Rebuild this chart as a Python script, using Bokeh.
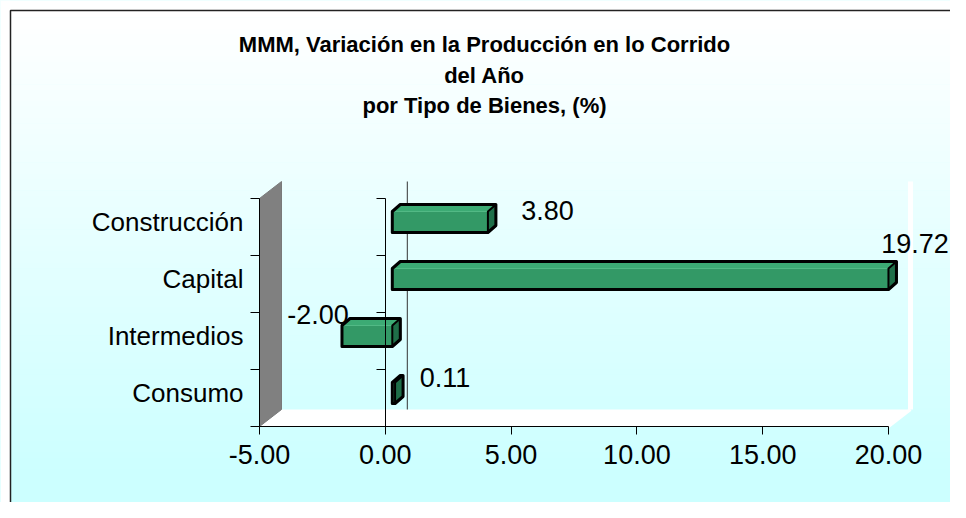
from bokeh.plotting import figure
from bokeh.models import Range1d, LinearAxis, FixedTicker, NumeralTickFormatter, Label
from bokeh.embed import file_html
from bokeh.resources import INLINE
from bokeh.core.properties import value

# ---------------- data ----------------
categories = ["Consumo", "Intermedios", "Capital", "Construcción"]
values = [0.11, -2.00, 19.72, 3.80]
value_labels = ["0.11", "-2.00", "19.72", "3.80"]
x_ticks = [-5, 0, 5, 10, 15, 20]
title_lines = ["MMM, Variación en la Producción en lo Corrido",
               "del Año",
               "por Tipo de Bienes, (%)"]

# ---------------- layout (pixels of the picture) ----------------
W, H = 950, 502
ORIGIN = 0
XMIN, XMAX = -5, 20
X_LEFT_PX, X_RIGHT_PX = 259, 888          # front plane: value -5 and 20
PXX = (X_RIGHT_PX - X_LEFT_PX) / (XMAX - XMIN)
Y_BOTTOM_PX = 426                         # front floor edge
PXY = 57                                  # pixels per category


def X(px):
    return XMIN + (px - X_LEFT_PX) / PXX


def Y(py):
    return -0.5 + (Y_BOTTOM_PX - py) / PXY


FONT = "Liberation Sans"
# 3D depth of the walls and bars (pixels)
DX, DY = 22 / PXX, 17 / PXY
D1X, D1Y = 7 / PXX, 5 / PXY
D2X, D2Y = 8 / PXX, 7 / PXY
HALF = 10.5 / PXY
# value-label offsets in pixels (right, down) from the bar end / category centre
label_dx = [57, -17, 33.5, 66.5]
label_dy = [-20.5, -26.5, -40.5, -16.5]

p = figure(width=W, height=H,
           x_range=Range1d(X(ORIGIN), X(ORIGIN + W)),
           y_range=Range1d(Y(ORIGIN + H), Y(ORIGIN)),
           output_backend="svg", toolbar_location=None,
           x_axis_type=None, y_axis_type=None, min_border=0)
p.outline_line_color = None
p.background_fill_color = "#ccffff"
p.border_fill_color = "#ccffff"

# background gradient inside the chart border
N = 90
top_px, bot_px = 0, 502
xs_l, xs_r, ys_t, ys_b, cols = [], [], [], [], []
for i in range(N):
    a = top_px + (bot_px - top_px) * i / N
    b = top_px + (bot_px - top_px) * (i + 1) / N
    t = min(1.0, max(0.0, (a - 10) / (470 - 10)))
    r = int(round(255 - (255 - 204) * t))
    cols.append("#%02x%02x%02x" % (r, 255, 255))
    xs_l.append(X(0)); xs_r.append(X(W)); ys_t.append(Y(a)); ys_b.append(Y(b + 0.6))
p.quad(left=xs_l, right=xs_r, top=ys_t, bottom=ys_b, fill_color=cols, line_color=None)
# white outside the chart border
p.quad(left=[X(0), X(0)], right=[X(10), X(W)], top=[Y(0), Y(0)], bottom=[Y(H), Y(10)],
       fill_color="white", line_color=None)

# chart border (left and top edges; the rest lies outside the picture)
p.line([X(10), X(10), X(W)], [Y(H), Y(10), Y(10)], line_color="#222222", line_width=1.5)

# walls
ylo, yhi = -0.5, len(categories) - 0.5
p.patch([XMIN, XMAX, XMAX + DX, XMIN + DX], [ylo, ylo, ylo + DY, ylo + DY],
        fill_color="white", line_color=None)
p.patch([XMIN, XMIN, XMIN + DX, XMIN + DX], [ylo, yhi, yhi + DY, ylo + DY],
        fill_color="#808080", line_color="#7a7a7a", line_width=1)
p.line([XMAX + DX, XMAX + DX], [ylo + DY, yhi + DY], line_color="white", line_width=5)
p.line([XMAX, XMAX + DX], [ylo, ylo + DY], line_color="white", line_width=3)
# zero line on the back wall
p.line([DX, DX], [ylo + DY, yhi + DY], line_color="#333333", line_width=1)

# bars
fx, fy, tx, ty, rx, ry, hx, hy = [], [], [], [], [], [], [], []
for c, v in enumerate(values):
    x0 = min(0, v) + D1X
    x1 = max(0, v) + D1X
    yc = c + D1Y
    yb, yt = yc - HALF, yc + HALF
    fx.append([x0, x1, x1, x0]); fy.append([yb, yb, yt, yt])
    tx.append([x0, x1, x1 + D2X, x0 + D2X]); ty.append([yt, yt, yt + D2Y, yt + D2Y])
    rx.append([x1, x1 + D2X, x1 + D2X, x1]); ry.append([yb, yb + D2Y, yt + D2Y, yt])
    hx.append([x0, x1, x1 + D2X, x1 + D2X, x0 + D2X, x0])
    hy.append([yb, yb, yb + D2Y, yt + D2Y, yt + D2Y, yt])
p.patches(fx, fy, fill_color="#339966", line_color=None)
p.patches(tx, ty, fill_color="#3cab74", line_color="#52b985", line_width=1)
p.patches(rx, ry, fill_color="#1f6f49", line_color="black", line_width=2)
p.patches(hx, hy, fill_color=None, line_color="black", line_width=3, line_join="round")

# value labels
lx = [max(0, v) if v >= 0 else v for v in values]
lx = [a + d / PXX for a, d in zip(lx, label_dx)]
ly = [c - d / PXY for c, d in enumerate(label_dy)]
p.text(x=lx, y=ly, text=value_labels, text_font=value(FONT), text_font_size="27px",
       text_align="center", text_baseline="middle", text_color="black")

# axes
xax = LinearAxis(ticker=FixedTicker(ticks=x_ticks), formatter=NumeralTickFormatter(format="0.00"),
                 fixed_location=ylo, bounds=(XMIN, XMAX))
xax.axis_line_color = "black"
xax.major_tick_out = 8
xax.major_tick_in = 0
xax.minor_tick_line_color = None
xax.major_label_text_font = FONT
xax.major_label_text_font_size = "27px"
xax.major_label_text_color = "black"
xax.major_label_standoff = 10
p.add_layout(xax, "below")

label_ticks = [round(c + D1Y, 4) for c in range(len(categories))]
bounds_y = [c - 0.5 for c in range(len(categories) + 1)]
yax = LinearAxis(ticker=FixedTicker(ticks=label_ticks, minor_ticks=bounds_y),
                 fixed_location=XMIN, bounds=(ylo, yhi),
                 major_label_overrides={t: n for t, n in zip(label_ticks, categories)})
yax.axis_line_color = "black"
yax.major_tick_line_color = None
yax.major_tick_out = 0
yax.major_tick_in = 0
yax.minor_tick_out = 9
yax.minor_tick_in = 0
yax.minor_tick_line_color = "black"
yax.major_label_text_font = FONT
yax.major_label_text_font_size = "26px"
yax.major_label_text_color = "black"
yax.major_label_standoff = 7
p.add_layout(yax, "left")

zax = LinearAxis(ticker=FixedTicker(ticks=[], minor_ticks=bounds_y),
                 fixed_location=0, bounds=(ylo, yhi))
zax.axis_line_color = "black"
zax.minor_tick_out = 9
zax.minor_tick_in = 0
zax.minor_tick_line_color = "black"
zax.major_label_text_font_size = "0px"
p.add_layout(zax, "left")

# title
for i, line in enumerate(title_lines):
    p.add_layout(Label(x=X(484), y=Y(44 + 30.5 * i), text=line, text_align="center",
                       text_baseline="alphabetic", text_font=FONT, text_font_size="22px",
                       text_font_style="bold", text_color="black"))

open("out.html", "w").write(file_html(p, INLINE))
